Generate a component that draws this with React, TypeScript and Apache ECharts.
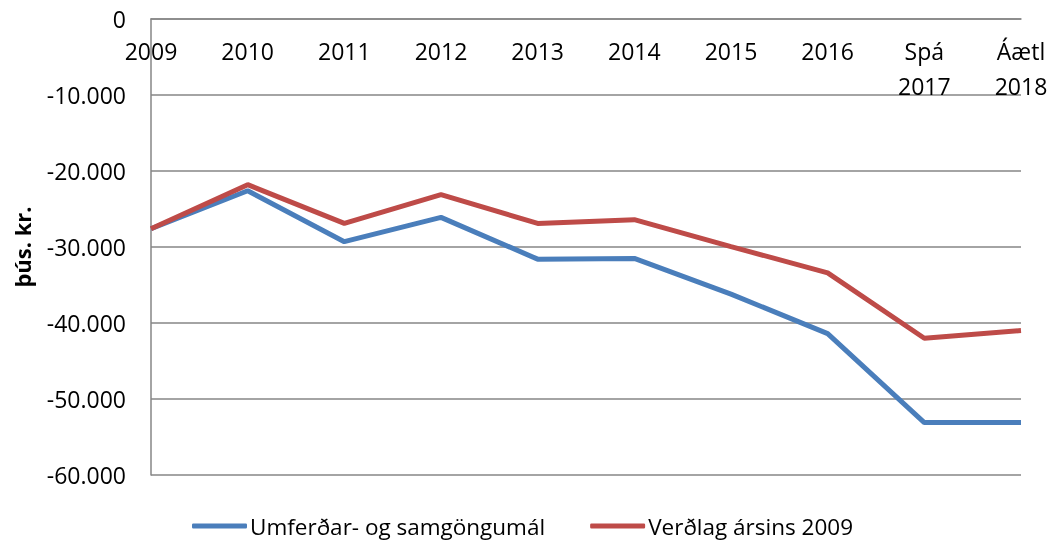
import React, { useEffect, useRef } from "react";
import * as echarts from "echarts";

const categories = ["2009", "2010", "2011", "2012", "2013", "2014", "2015", "2016", "Spá\n2017", "Áætl\n2018"];
const umferdValues = [-27600, -22600, -29300, -26100, -31600, -31500, -36200, -41400, -53100, -53100];
const verdlagValues = [-27600, -21800, -26900, -23100, -26900, -26400, -29950, -33400, -42000, -41000];
const yTicks = { min: -60000, max: 0, interval: 10000 };

const fmt = (v: number) => {
  const s = Math.abs(v).toString().replace(/\B(?=(\d{3})+(?!\d))/g, ".");
  return (v < 0 ? "-" : "") + s;
};

export default function App() {
  const ref = useRef<HTMLDivElement>(null);
  useEffect(() => {
    if (!ref.current) return;
    const chart = echarts.init(ref.current, null, { renderer: "svg" });
    const font = "'Open Sans', 'Liberation Sans', sans-serif";
    chart.setOption({
      animation: false,
      textStyle: { fontFamily: font },
      grid: { left: 151, right: 30, top: 19, bottom: 67, containLabel: false, outerBoundsMode: "none" },
      legend: {
        top: 509,
        left: 187,
        itemWidth: 55,
        itemHeight: 5,
        itemGap: 45,
        icon: "roundRect",
        textStyle: { fontSize: 22.5, lineHeight: 24, color: "#000", fontFamily: font, padding: [0, 0, 0, -2] },
        data: ["Umferðar- og samgöngumál", "Verðlag ársins 2009"],
      },
      xAxis: {
        type: "category",
        data: categories,
        boundaryGap: false,
        position: "top",
        axisLine: { show: true, lineStyle: { color: "#868686", width: 1.5 } },
        axisTick: { show: false },
        axisLabel: {
          inside: true,
          color: "#000",
          fontSize: 23,
          lineHeight: 35,
          margin: 14,
          interval: 0,
          fontFamily: font,
        },
        splitLine: { show: false },
      },
      yAxis: {
        type: "value",
        min: yTicks.min,
        max: yTicks.max,
        interval: yTicks.interval,
        name: "þús. kr.",
        nameLocation: "middle",
        nameGap: 118,
        nameRotate: 90,
        nameTextStyle: { fontSize: 22, fontWeight: "bold", color: "#000", fontFamily: font },
        axisLine: { show: true, lineStyle: { color: "#868686", width: 1.5 } },
        axisTick: { show: false },
        axisLabel: { color: "#000", fontSize: 23, margin: 25, formatter: fmt, fontFamily: font },
        splitLine: { lineStyle: { color: "#868686", width: 1.5 } },
      },
      series: [
        {
          name: "Umferðar- og samgöngumál",
          type: "line",
          data: umferdValues,
          symbol: "none",
          lineStyle: { color: "#4A7EBB", width: 5 },
          itemStyle: { color: "#4A7EBB" },
        },
        {
          name: "Verðlag ársins 2009",
          type: "line",
          data: verdlagValues,
          symbol: "none",
          lineStyle: { color: "#BE4B48", width: 5 },
          itemStyle: { color: "#BE4B48" },
        },
      ],
    });
    return () => chart.dispose();
  }, []);
  return <div ref={ref} style={{ position: "fixed", left: 0, top: 0, width: 1051, height: 542 }} />;
}
